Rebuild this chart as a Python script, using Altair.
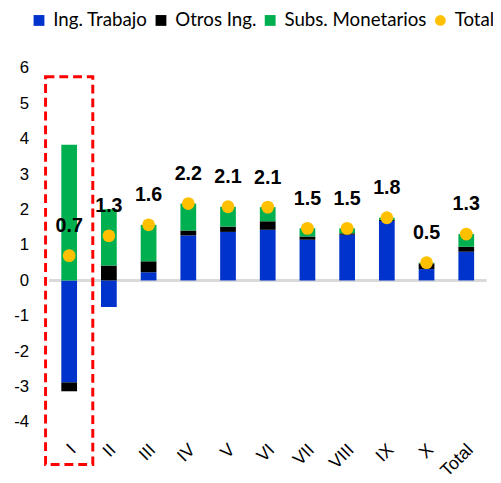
import altair as alt
import pandas as pd

categories = ["I", "II", "III", "IV", "V", "VI", "VII", "VIII", "IX", "X", "Total"]
ing_trabajo = [-2.88, -0.75, 0.23, 1.27, 1.37, 1.43, 1.15, 1.29, 1.68, 0.32, 0.81]
otros_ing = [-0.25, 0.42, 0.31, 0.14, 0.15, 0.24, 0.09, 0.04, 0.03, 0.16, 0.14]
subs_monetarios = [3.83, 1.59, 1.03, 0.76, 0.56, 0.40, 0.23, 0.14, 0.06, 0.02, 0.36]
total = [0.70, 1.26, 1.57, 2.17, 2.08, 2.07, 1.47, 1.47, 1.77, 0.50, 1.31]

series_names = ["Ing. Trabajo", "Otros Ing.", "Subs. Monetarios", "Total"]
series_colors = ["#0033CC", "#000000", "#00B050", "#FFC000"]
series_shapes = ["square", "square", "square", "circle"]

y_ticks = [-4, -3, -2, -1, 0, 1, 2, 3, 4, 5, 6]

highlight_cat = ["I"]
highlight_top = [5.75]
highlight_bottom = [-5.2]

rows = []
for i, c in enumerate(categories):
    for k, (name, vals) in enumerate(zip(series_names[:3], [ing_trabajo, otros_ing, subs_monetarios])):
        rows.append({"cat": c, "serie": name, "value": vals[i], "ord": k})
bars_df = pd.DataFrame(rows)
tot_df = pd.DataFrame({"cat": categories, "value": total, "serie": "Total"})
hl_df = pd.DataFrame({"cat": highlight_cat, "top": highlight_top, "bottom": highlight_bottom})

FONT = "Liberation Sans"

x_axis = alt.Axis(title=None, labelAngle=-45, domain=False, ticks=False,
                  labelPadding=19, labelOffset=-2, labelFontSize=18, labelFont=FONT,
                  labelColor="#000000")
y_axis = alt.Axis(title=None, values=y_ticks, tickCount=11, domain=False, ticks=False, grid=False,
                  labelOverlap=False, labelExpr="datum.value + ''",
                  labelPadding=21, labelFontSize=17, labelFont=FONT, labelColor="#000000")
x_scale = alt.Scale(paddingInner=0.6, paddingOuter=0.3)
y_scale = alt.Scale(domain=[-4, 6], nice=False, zero=False)

def xe():
    return alt.X("cat:N", sort=categories, scale=x_scale, axis=x_axis)

color_scale = alt.Scale(domain=series_names, range=series_colors)
shape_scale = alt.Scale(domain=series_names, range=series_shapes)
legend = alt.Legend(title=None, orient="none", legendX=-20, legendY=-58, direction="horizontal",
                    columns=4, labelFont="Lato", labelFontSize=19, labelColor="#000000",
                    symbolSize=121, symbolStrokeWidth=0, columnPadding=4, labelOffset=5,
                    symbolOpacity=1, labelLimit=300)

bars = alt.Chart(bars_df).mark_bar(width=16).encode(
    x=xe(),
    y=alt.Y("value:Q", stack="zero", scale=y_scale, axis=y_axis),
    color=alt.Color("serie:N", scale=color_scale, legend=legend),
    order=alt.Order("ord:Q"),
)

zero = alt.Chart(tot_df).mark_rule(color="#D9D9D9", strokeWidth=2).encode(
    y=alt.datum(0, scale=y_scale, axis=y_axis))

points = alt.Chart(tot_df).mark_point(filled=True, size=169, opacity=1).encode(
    x=xe(),
    y=alt.Y("value:Q", scale=y_scale, axis=y_axis),
    color=alt.Color("serie:N", scale=color_scale, legend=legend),
    shape=alt.Shape("serie:N", scale=shape_scale, legend=legend),
)

labels = alt.Chart(tot_df).mark_text(dy=-30, fontSize=20, fontWeight="bold", font=FONT, color="#000000").encode(
    x=xe(),
    y=alt.Y("value:Q", scale=y_scale, axis=y_axis),
    text=alt.Text("value:Q", format=".1f"),
)

box = alt.Chart(hl_df).mark_rect(filled=False, width=48, stroke="#FF0000", strokeWidth=3,
                                 strokeDash=[9, 5]).encode(
    x=xe(),
    y=alt.Y("top:Q", scale=y_scale, axis=y_axis),
    y2="bottom:Q",
)

chart = alt.layer(zero, bars, points, labels, box).properties(
    width=444, height=360,
    autosize=alt.AutoSizeParams(type="none"),
    padding={"left": 42, "top": 57, "right": 7, "bottom": 58},
).configure_view(stroke=None).configure_axis(grid=False)

chart.save("out.html", embed_options={"renderer": "svg", "actions": False})
